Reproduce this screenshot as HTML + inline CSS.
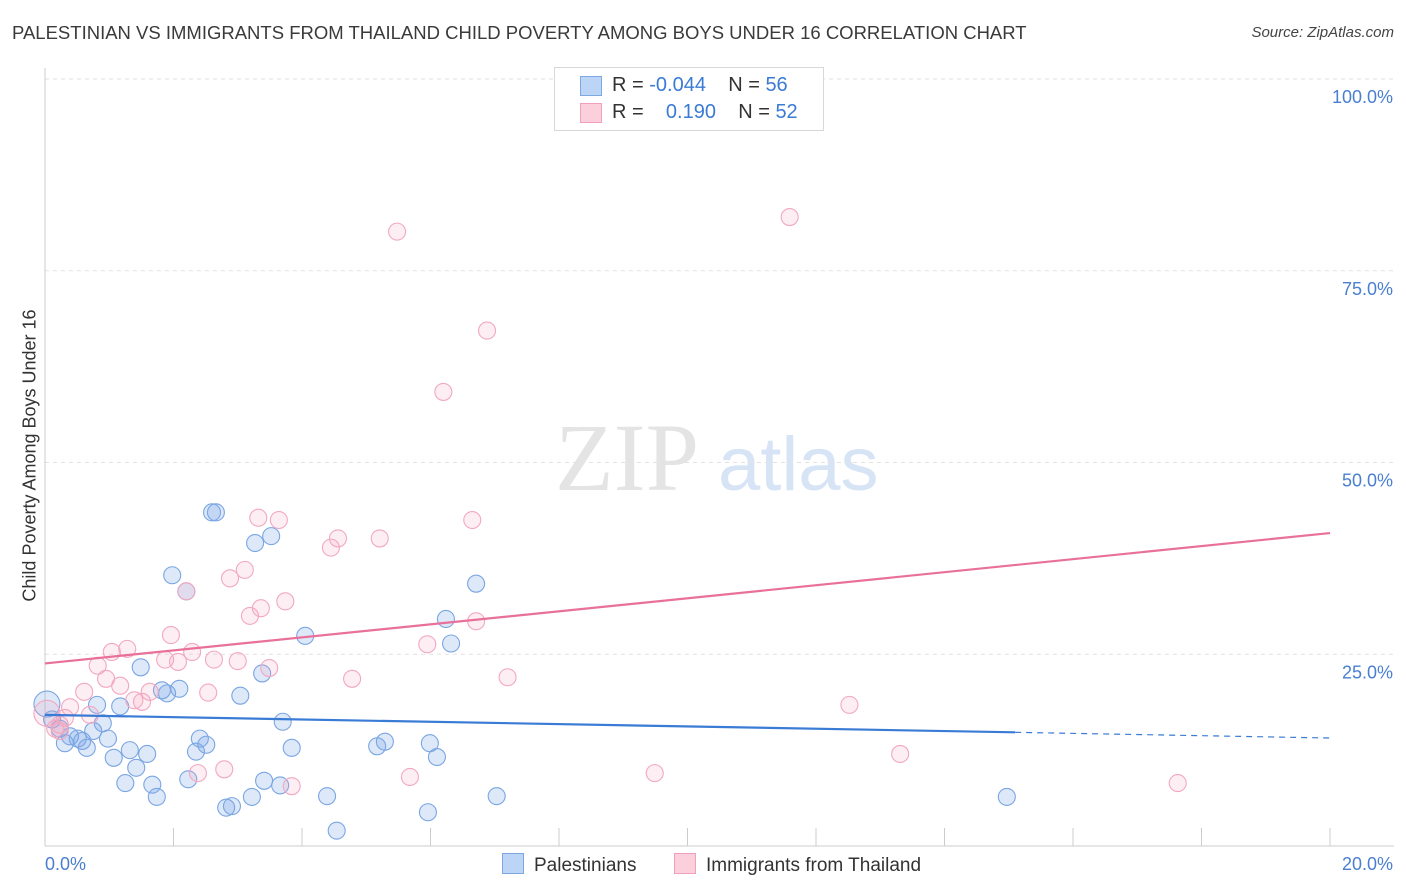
<!DOCTYPE html>
<html><head><meta charset="utf-8">
<style>
body{margin:0;background:#fff;font-family:"Liberation Sans",sans-serif;}
#wrap{position:relative;width:1406px;height:892px;overflow:hidden;}
.t{position:absolute;white-space:nowrap;}
</style></head>
<body>
<div id="wrap">
<div class="t" style="left:12px;top:22px;font-size:18.5px;color:#3a3a3a;">PALESTINIAN VS IMMIGRANTS FROM THAILAND CHILD POVERTY AMONG BOYS UNDER 16 CORRELATION CHART</div>
<div class="t" style="right:12px;top:24px;font-size:15px;color:#444;font-style:italic;">Source: ZipAtlas.com</div>
<div class="t" style="left:-135px;top:445px;width:330px;text-align:center;transform:rotate(-90deg);font-size:18px;color:#333;">Child Poverty Among Boys Under 16</div>
<svg id="plot" width="1406" height="892" style="position:absolute;left:0;top:0"></svg>
</div>
<script>
const xTicks=[0,2,4,6,8,10,12,14,16,18,20];
const yTicks=[25,50,75,100];
const yTickLabels=["25.0%","50.0%","75.0%","100.0%"];
const bluePts=[[0.03,18.5],[0.11,16.5],[0.23,15.3],[0.31,13.4],[0.39,14.3],[0.51,14.0],[0.58,13.7],[0.65,12.8],[0.75,15.0],[0.81,18.4],[0.90,16.0],[0.98,14.0],[1.07,11.5],[1.17,18.2],[1.25,8.2],[1.32,12.5],[1.42,10.2],[1.49,23.3],[1.59,12.0],[1.67,8.0],[1.74,6.4],[1.82,20.3],[1.90,19.9],[1.98,35.3],[2.09,20.5],[2.20,33.2],[2.23,8.7],[2.35,12.3],[2.41,14.0],[2.51,13.2],[2.60,43.5],[2.66,43.5],[2.82,5.0],[2.91,5.2],[3.04,19.6],[3.22,6.4],[3.27,39.5],[3.41,8.5],[3.38,22.5],[3.52,40.4],[3.66,7.9],[3.70,16.2],[3.84,12.8],[4.05,27.4],[4.39,6.5],[4.54,2.0],[5.17,13.0],[5.29,13.6],[5.96,4.4],[5.99,13.4],[6.10,11.6],[6.24,29.6],[6.32,26.4],[6.71,34.2],[7.03,6.5],[14.97,6.4]];
const pinkPts=[[0.03,17.3],[0.16,15.3],[0.23,15.8],[0.31,16.7],[0.39,18.1],[0.61,20.1],[0.70,17.1],[0.82,23.5],[0.95,21.8],[1.04,25.3],[1.17,20.9],[1.28,25.7],[1.39,19.0],[1.51,18.8],[1.63,20.1],[1.87,24.3],[1.96,27.5],[2.07,24.0],[2.20,33.2],[2.29,25.3],[2.38,9.5],[2.54,20.0],[2.63,24.3],[2.79,10.0],[2.88,34.9],[3.00,24.1],[3.11,36.0],[3.19,30.0],[3.32,42.8],[3.36,31.0],[3.49,23.2],[3.64,42.5],[3.74,31.9],[3.84,7.8],[4.45,38.9],[4.56,40.1],[4.78,21.8],[5.21,40.1],[5.48,80.1],[5.68,9.0],[5.95,26.3],[6.20,59.2],[6.65,42.5],[6.71,29.3],[6.88,67.2],[7.20,22.0],[9.49,9.5],[11.59,82.0],[12.52,18.4],[13.31,12.0],[17.63,8.2],[0.23,15.0]];
const blueLine=[17.1,-0.151];
const pinkLine=[23.8,0.85];
const X0=45,X1=1330,Y0=846,Y100=79;
const sx=v=>X0+(X1-X0)*v/20, sy=v=>Y0-(Y0-Y100)*v/100;
const svg=document.getElementById('plot');const NS='http://www.w3.org/2000/svg';
function mk(tag,attrs){const e=document.createElementNS(NS,tag);for(const k in attrs)e.setAttribute(k,attrs[k]);svg.appendChild(e);return e;}
let w=mk('text',{x:555,y:490,'font-size':96,fill:'#e4e4e4','font-family':'Liberation Serif'});w.textContent='ZIP';


w=mk('text',{x:718,y:490,'font-size':76,fill:'#d6e4f6','font-family':'Liberation Sans'});w.textContent='atlas';


yTicks.forEach((t,i)=>{
 const g=mk('line',{x1:X0,x2:1394,y1:sy(t),y2:sy(t),stroke:'#e2e2e2','stroke-dasharray':'4,4'});
 
 
 const l=mk('text',{x:1393,y:sy(t)+24,'text-anchor':'end','font-size':18,fill:'#4a7fd0'});l.textContent=yTickLabels[i];
 
 
});
const ax=mk('line',{x1:X0,x2:X0,y1:68,y2:Y0,stroke:'#ccc'});


const bx=mk('line',{x1:X0,x2:1394,y1:Y0,y2:Y0,stroke:'#ccc'});


xTicks.forEach(t=>{const e=mk('line',{x1:sx(t),x2:sx(t),y1:828,y2:Y0,stroke:'#ccc'});
 
 });
let tl=mk('text',{x:45,y:870,'font-size':18,fill:'#4a7fd0'});tl.textContent='0.0%';


tl=mk('text',{x:1393,y:870,'text-anchor':'end','font-size':18,fill:'#4a7fd0'});tl.textContent='20.0%';


function pts(arr,fill,stroke,name){arr.forEach((p,i)=>{const c=mk('circle',{cx:sx(p[0]),cy:sy(p[1]),r:i===0?13:8.5,fill:fill,stroke:stroke,'stroke-width':1.1});
 
 });}
pts(bluePts,'rgba(120,165,230,0.25)','#7aa6e2','palestinian-point');
pts(pinkPts,'rgba(245,160,188,0.18)','#f2a8c0','thailand-point');
let ln=mk('line',{x1:sx(0),y1:sy(blueLine[0]),x2:sx(15.1),y2:sy(blueLine[0]+blueLine[1]*15.1),stroke:'#3a7bd5','stroke-width':2.2});


ln=mk('line',{x1:sx(15.1),y1:sy(blueLine[0]+blueLine[1]*15.1),x2:sx(20),y2:sy(blueLine[0]+blueLine[1]*20),stroke:'#3a7bd5','stroke-width':1.2,'stroke-dasharray':'6,5'});


ln=mk('line',{x1:sx(0),y1:sy(pinkLine[0]),x2:sx(20),y2:sy(pinkLine[0]+pinkLine[1]*20),stroke:'#e8709a','stroke-width':2.2});


</script>
<div style="position:absolute;left:554px;top:67px;width:268px;height:62px;border:1px solid #d8d8d8;background:#fff;font-size:20px;">
 <div style="position:absolute;left:25px;top:8px;width:20px;height:18px;background:#bcd4f5;border:1px solid #7ea8e0"></div>
 <div class="t" style="left:57px;top:6px;color:#333">R = <span style="color:#3a7bd5">-0.044</span>&nbsp;&nbsp;&nbsp; N = <span style="color:#3a7bd5">56</span></div>
 <div style="position:absolute;left:25px;top:35px;width:20px;height:18px;background:#fbd0dc;border:1px solid #f0a0ba"></div>
 <div class="t" style="left:57px;top:33px;color:#333">R = &nbsp;&nbsp;&nbsp;<span style="color:#3a7bd5">0.190</span>&nbsp;&nbsp;&nbsp; N = <span style="color:#3a7bd5">52</span></div>
</div>
<div style="position:absolute;left:502px;top:853px;font-size:19px;color:#333">
 <span style="display:inline-block;width:20px;height:19px;background:#bcd4f5;border:1px solid #7ea8e0;vertical-align:-3px;margin-right:10px"></span>Palestinians</div>
<div style="position:absolute;left:674px;top:853px;font-size:19px;color:#333">
 <span style="display:inline-block;width:20px;height:19px;background:#fbd0dc;border:1px solid #f0a0ba;vertical-align:-3px;margin-right:10px"></span>Immigrants from Thailand</div>
</body></html>
